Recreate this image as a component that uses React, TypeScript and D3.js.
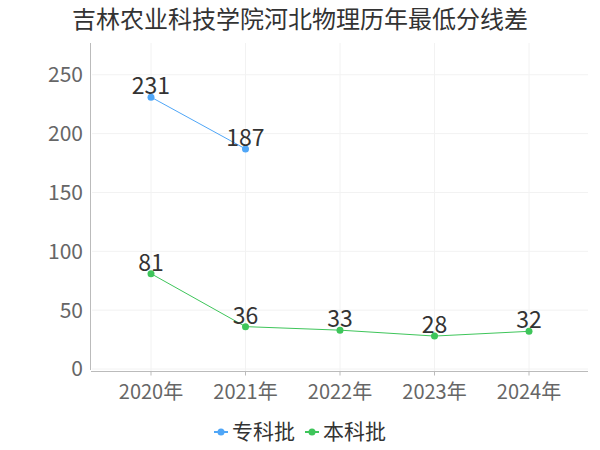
import { useEffect, useRef } from 'react';
import * as d3 from 'd3';

const years = ['2020年', '2021年', '2022年', '2023年', '2024年'];
const zhuanke = [231, 187, null, null, null];
const benke = [81, 36, 33, 28, 32];
const yTicks = [0, 50, 100, 150, 200, 250];

const seriesNames = ['专科批', '本科批'];
const seriesColors = ['#4fa6f7', '#3ec55a'];

const width = 600;
const height = 450;
const font = '"Noto Sans CJK SC", "Noto Sans", sans-serif';

export default function App() {
  const svgRef = useRef<SVGSVGElement>(null);

  useEffect(() => {
    if (!svgRef.current) return;
    const svg = d3.select(svgRef.current);
    svg.selectAll('*').remove();

    const plot = { left: 91, right: 588, top: 43, bottom: 369 };

    const x = d3.scalePoint<string>()
      .domain(years)
      .range([151, 529]);

    const y = d3.scaleLinear()
      .domain([0, 277])
      .range([plot.bottom, plot.top]);

    // title
    svg.append('text')
      .attr('x', width / 2)
      .attr('y', 28)
      .attr('text-anchor', 'middle')
      .attr('font-size', '24px')
      .attr('fill', '#333')
      .style('font-family', font)
      .text('吉林农业科技学院河北物理历年最低分线差');

    // grid
    const grid = svg.append('g');
    grid.selectAll('.hgrid')
      .data(yTicks)
      .enter()
      .append('line')
      .attr('x1', plot.left + 1)
      .attr('x2', plot.right)
      .attr('y1', d => y(d))
      .attr('y2', d => y(d))
      .attr('stroke', '#f2f2f2')
      .attr('stroke-width', 1);

    grid.selectAll('.vgrid')
      .data(years)
      .enter()
      .append('line')
      .attr('x1', d => x(d)!)
      .attr('x2', d => x(d)!)
      .attr('y1', plot.top)
      .attr('y2', plot.bottom + 3)
      .attr('stroke', '#f2f2f2')
      .attr('stroke-width', 1);

    // y axis
    svg.append('line')
      .attr('x1', plot.left - 0.5)
      .attr('x2', plot.left - 0.5)
      .attr('y1', plot.top)
      .attr('y2', plot.bottom + 1)
      .attr('stroke', '#bbb');

    svg.selectAll('.ytick')
      .data(yTicks)
      .enter()
      .append('text')
      .attr('x', plot.left - 8)
      .attr('y', d => y(d))
      .attr('dy', '0.35em')
      .attr('text-anchor', 'end')
      .attr('font-size', '21px')
      .attr('fill', '#666')
      .style('font-family', font)
      .text(d => d);

    // x axis
    const axisY = plot.bottom + 2.5;
    svg.append('line')
      .attr('x1', plot.left)
      .attr('x2', plot.right)
      .attr('y1', axisY)
      .attr('y2', axisY)
      .attr('stroke', '#bbb');

    svg.selectAll('.xtickmark')
      .data(years)
      .enter()
      .append('line')
      .attr('x1', d => x(d)!)
      .attr('x2', d => x(d)!)
      .attr('y1', axisY)
      .attr('y2', axisY + 4)
      .attr('stroke', '#bbb');

    svg.selectAll('.xtick')
      .data(years)
      .enter()
      .append('text')
      .attr('x', d => x(d)!)
      .attr('y', 399)
      .attr('text-anchor', 'middle')
      .attr('font-size', '20px')
      .attr('fill', '#666')
      .style('font-family', font)
      .text(d => d);

    // series
    const allSeries = [zhuanke, benke];
    allSeries.forEach((vals, si) => {
      const pts = years
        .map((yr, i) => ({ yr, v: vals[i] }))
        .filter(p => p.v !== null) as { yr: string; v: number }[];
      const color = seriesColors[si];

      const line = d3.line<{ yr: string; v: number }>()
        .x(d => x(d.yr)!)
        .y(d => y(d.v));

      svg.append('path')
        .datum(pts)
        .attr('d', line)
        .attr('fill', 'none')
        .attr('stroke', color)
        .attr('stroke-width', 1);

      svg.selectAll(`.pt-${si}`)
        .data(pts)
        .enter()
        .append('circle')
        .attr('cx', d => x(d.yr)!)
        .attr('cy', d => y(d.v))
        .attr('r', 3.5)
        .attr('fill', color);

      svg.selectAll(`.lbl-${si}`)
        .data(pts)
        .enter()
        .append('text')
        .attr('x', d => x(d.yr)!)
        .attr('y', d => y(d.v) - 3)
        .attr('text-anchor', 'middle')
        .attr('font-size', '23px')
        .attr('fill', '#333')
        .style('font-family', font)
        .text(d => d.v);
    });

    // legend
    const legend = svg.append('g');
    const legendX = [214, 305];
    seriesNames.forEach((name, i) => {
      const g = legend.append('g').attr('transform', `translate(${legendX[i]}, 432)`);
      g.append('line')
        .attr('x1', 0)
        .attr('x2', 14)
        .attr('y1', 0)
        .attr('y2', 0)
        .attr('stroke', seriesColors[i])
        .attr('stroke-width', 2);
      g.append('circle')
        .attr('cx', 7)
        .attr('cy', 0)
        .attr('r', 3.5)
        .attr('fill', seriesColors[i]);
      g.append('text')
        .attr('x', 18)
        .attr('y', 0)
        .attr('dy', '0.35em')
        .attr('font-size', '21px')
        .attr('fill', '#333')
        .style('font-family', font)
        .text(name);
    });
  }, []);

  return (
    <svg
      ref={svgRef}
      width={width}
      height={height}
      style={{ position: 'absolute', left: 0, top: 0, background: '#fff' }}
    />
  );
}
